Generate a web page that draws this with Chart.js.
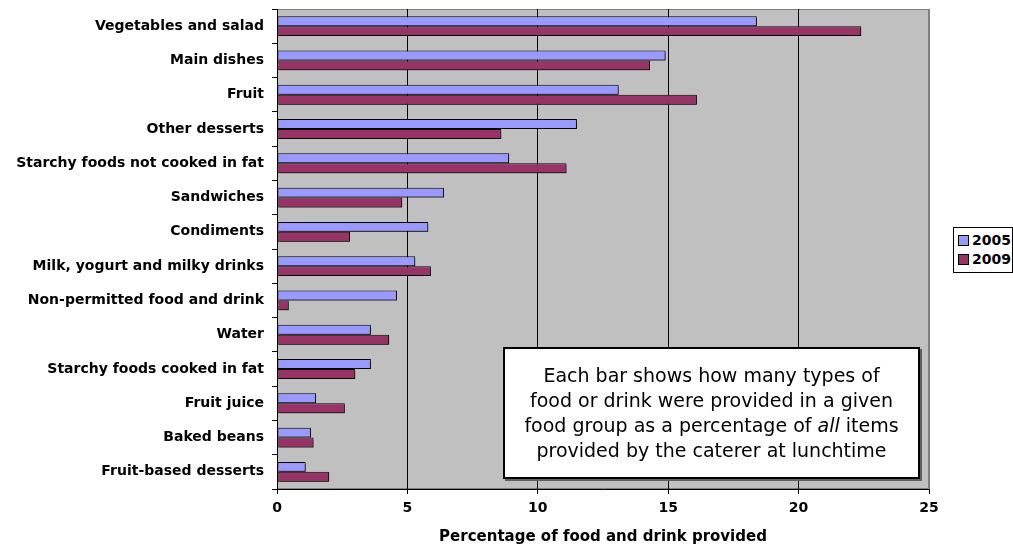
<!DOCTYPE html>
<html>
<head>
<meta charset="utf-8">
<script src="https://cdn.jsdelivr.net/npm/chart.js@4"></script>
<style>
  html, body { margin: 0; padding: 0; background: #fff; }
  #wrap { position: relative; width: 1013px; height: 546px; }
  #note {
    position: absolute; left: 503px; top: 347px; width: 413px; height: 128px;
    background: #fff; border: 2px solid #000; box-shadow: 2px 2px 0 #606060;
    font-family: 'DejaVu Sans', sans-serif; font-size: 19px; line-height: 25px;
    text-align: center; color: #000; box-sizing: content-box;
    display: flex; flex-direction: column; justify-content: center;
  }
  #legend {
    position: absolute; left: 953px; top: 227px; width: 58px; height: 44px;
    border: 1px solid #000; background: #fff;
    font-family: 'DejaVu Sans', sans-serif; font-weight: bold; font-size: 14px;
  }
  #legend div { position: absolute; left: 4px; height: 19px; line-height: 19px; white-space: nowrap; }
  #legend span.sw {
    display: inline-block; width: 9px; height: 9px; border: 1px solid #000;
    margin-right: 3px; vertical-align: -1px;
  }
</style>
</head>
<body>
<div id="wrap">
  <canvas id="chart" width="1013" height="546"></canvas>
  <div id="note">
    <div>Each bar shows how many types of</div>
    <div>food or drink were provided in a given</div>
    <div>food group as a percentage of <i>all</i> items</div>
    <div>provided by the caterer at lunchtime</div>
  </div>
  <div id="legend"></div>
</div>
<script>
// values
const categories = [
  'Vegetables and salad',
  'Main dishes',
  'Fruit',
  'Other desserts',
  'Starchy foods not cooked in fat',
  'Sandwiches',
  'Condiments',
  'Milk, yogurt and milky drinks',
  'Non-permitted food and drink',
  'Water',
  'Starchy foods cooked in fat',
  'Fruit juice',
  'Baked beans',
  'Fruit-based desserts',
];
const values2005 = [18.4, 14.9, 13.1, 11.5, 8.9, 6.4, 5.8, 5.3, 4.6, 3.6, 3.6, 1.5, 1.3, 1.1];
const values2009 = [22.4, 14.3, 16.1, 8.6, 11.1, 4.8, 2.8, 5.9, 0.45, 4.3, 3.0, 2.6, 1.4, 2.0];
const seriesNames = ['2005', '2009'];
const seriesColors = ['#9999FF', '#993366'];
const xTitle = 'Percentage of food and drink provided';

const fontFamily = "'DejaVu Sans', sans-serif";
const labelFont = { family: fontFamily, size: 14, weight: 'bold' };

// grey plot background, like the old spreadsheet charts
const plotBackground = {
  id: 'plotBackground',
  beforeDraw(chart) {
    const { ctx, chartArea: a } = chart;
    ctx.save();
    ctx.fillStyle = '#C0C0C0';
    ctx.fillRect(a.left, a.top, a.right - a.left, a.bottom - a.top);
    ctx.strokeStyle = '#808080';
    ctx.lineWidth = 1;
    ctx.strokeRect(a.left + 0.5, a.top + 0.5, a.right - a.left - 1, a.bottom - a.top - 1);
    ctx.restore();
  },
};

// small drop shadow under the bars
const barShadow = {
  id: 'barShadow',
  beforeDatasetsDraw(chart) {
    const ctx = chart.ctx;
    ctx.save();
    ctx.shadowColor = 'rgba(0,0,0,0.45)';
    ctx.shadowOffsetX = 2;
    ctx.shadowOffsetY = 2;
    ctx.shadowBlur = 0;
  },
  afterDatasetsDraw(chart) {
    chart.ctx.restore();
  },
};

const chart = new Chart(document.getElementById('chart'), {
  type: 'bar',
  data: {
    labels: categories,
    datasets: [values2005, values2009].map((vals, i) => ({
      label: seriesNames[i],
      data: vals,
      backgroundColor: seriesColors[i],
      borderColor: '#000',
      borderWidth: 1,
      borderSkipped: false,
      categoryPercentage: 0.58,
      barPercentage: 1.0,
    })),
  },
  options: {
    indexAxis: 'y',
    responsive: false,
    animation: false,
    layout: { padding: { top: 9, right: 84, bottom: 0, left: 0 } },
    plugins: {
      legend: { display: false },
      tooltip: { enabled: false },
    },
    scales: {
      x: {
        min: 0,
        max: 25,
        ticks: { stepSize: 5, color: '#000', font: { family: fontFamily, size: 14, weight: 'bold' }, padding: 6 },
        grid: {
          color: (c) => (c.tick && c.tick.value === 25 ? '#808080' : (c.tick && c.tick.value === 0 ? 'rgba(0,0,0,0)' : '#000')),
          tickColor: '#000',
          tickLength: 5,
          lineWidth: 1,
        },
        border: { color: '#000', width: 1 },
        title: {
          display: true,
          text: xTitle,
          color: '#000',
          font: { family: fontFamily, size: 15, weight: 'bold' },
          padding: { top: 5, bottom: 0 },
        },
        afterFit: (s) => { s.height = 57; },
      },
      y: {
        ticks: { color: '#000', font: labelFont, padding: 8, autoSkip: false },
        grid: { offset: true, drawOnChartArea: false, tickLength: 5, tickColor: '#000' },
        border: { color: '#000', width: 1 },
        afterFit: (s) => {
          s.width = 277;
          s.paddingTop = 0;
          s.paddingBottom = 0;
        },
      },
    },
  },
  plugins: [plotBackground, barShadow],
});

// legend box on the right
const legendEl = document.getElementById('legend');
seriesNames.forEach((name, i) => {
  const row = document.createElement('div');
  row.style.top = (3 + i * 19) + 'px';
  row.innerHTML = '<span class="sw" style="background:' + seriesColors[i] + '"></span>' + name;
  legendEl.appendChild(row);
});
</script>
</body>
</html>
